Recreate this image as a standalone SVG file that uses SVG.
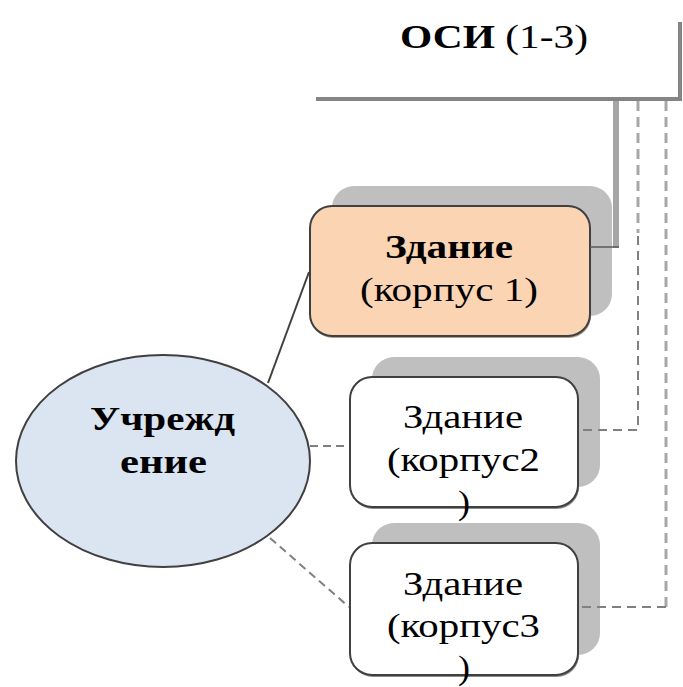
<svg xmlns="http://www.w3.org/2000/svg" width="683" height="687" viewBox="0 0 683 687">
<style>
  text { font-family: "Liberation Serif", "Times New Roman", serif; font-size: 33px; fill: #000; text-anchor: start; }
  .b { font-weight: bold; }
  .node { stroke: #404040; stroke-width: 2; }
  .shadow { fill: #bfbfbf; }
  .dash { fill: none; stroke: #808080; stroke-width: 2; stroke-dasharray: 9,6; }
  .dashl { fill: none; stroke: #a8a8a8; stroke-width: 3; stroke-dasharray: 10,6; }
</style>
<rect width="683" height="687" fill="#ffffff"/>

<g id="osi">
  <rect x="316" y="22" width="366" height="79" fill="#858585"/>
  <rect x="300" y="-2" width="378" height="99" fill="#ffffff"/>
  <text x="400" y="48" textLength="188" lengthAdjust="spacingAndGlyphs"><tspan class="b">ОСИ</tspan> (1-3)</text>
</g>

<g id="institution">
  <ellipse cx="163" cy="461" rx="147" ry="106" fill="#dbe5f1" stroke="#404040" stroke-width="2"/>
  <text class="b" x="90" y="430" textLength="145" lengthAdjust="spacingAndGlyphs">Учрежд</text>
  <text class="b" x="120" y="473" textLength="87" lengthAdjust="spacingAndGlyphs">ение</text>
</g>

<g id="building1">
  <rect class="shadow" x="332" y="186" width="280" height="130" rx="22"/>
  <rect x="311" y="208" width="280" height="130" rx="22" fill="#b09a8a"/>
  <rect class="node" x="310" y="206" width="280" height="130" rx="22" fill="#fbd4b4"/>
  <text class="b" x="385" y="258" textLength="128" lengthAdjust="spacingAndGlyphs">Здание</text>
  <text x="360" y="301" textLength="178" lengthAdjust="spacingAndGlyphs">(корпус 1)</text>
</g>

<g id="building2">
  <rect class="shadow" x="372" y="357" width="228" height="130" rx="22"/>
  <rect x="351" y="379" width="228" height="130" rx="22" fill="#8a8a8a"/>
  <rect class="node" x="350" y="377" width="228" height="130" rx="22" fill="#ffffff"/>
  <text x="403" y="428" textLength="120" lengthAdjust="spacingAndGlyphs">Здание</text>
  <text x="387" y="471" textLength="153" lengthAdjust="spacingAndGlyphs">(корпус2</text>
</g>

<g id="building3">
  <rect class="shadow" x="372" y="523" width="228" height="132" rx="22"/>
  <rect x="351" y="545" width="228" height="132" rx="22" fill="#8a8a8a"/>
  <rect class="node" x="350" y="543" width="228" height="132" rx="22" fill="#ffffff"/>
  <text x="403" y="595" textLength="120" lengthAdjust="spacingAndGlyphs">Здание</text>
  <text x="387" y="637" textLength="153" lengthAdjust="spacingAndGlyphs">(корпус3</text>
  <text x="458" y="679" textLength="12" lengthAdjust="spacingAndGlyphs">)</text>
</g>

<g id="building2-tail">
  <text x="458" y="514" textLength="12" lengthAdjust="spacingAndGlyphs">)</text>
</g>

<g id="connectors">
  <line x1="616" y1="101" x2="616" y2="248" stroke="#a6a6a6" stroke-width="6"/>
  <line x1="590" y1="247" x2="619" y2="247" stroke="#595959" stroke-width="1.5"/>
  <path class="dashl" d="M638,101 V233"/>
  <path class="dash" d="M638,236 V430 H578" stroke-width="2.5"/>
  <path class="dashl" d="M666,101 V607"/>
  <path class="dash" d="M666,607 H579"/>
  <line x1="268" y1="383" x2="309" y2="272" stroke="#404040" stroke-width="2"/>
  <line x1="310" y1="446" x2="349" y2="446" stroke="#808080" stroke-width="2" stroke-dasharray="8,5"/>
  <line x1="270" y1="538" x2="349" y2="607" stroke="#808080" stroke-width="2" stroke-dasharray="8,5"/>
</g>
</svg>
